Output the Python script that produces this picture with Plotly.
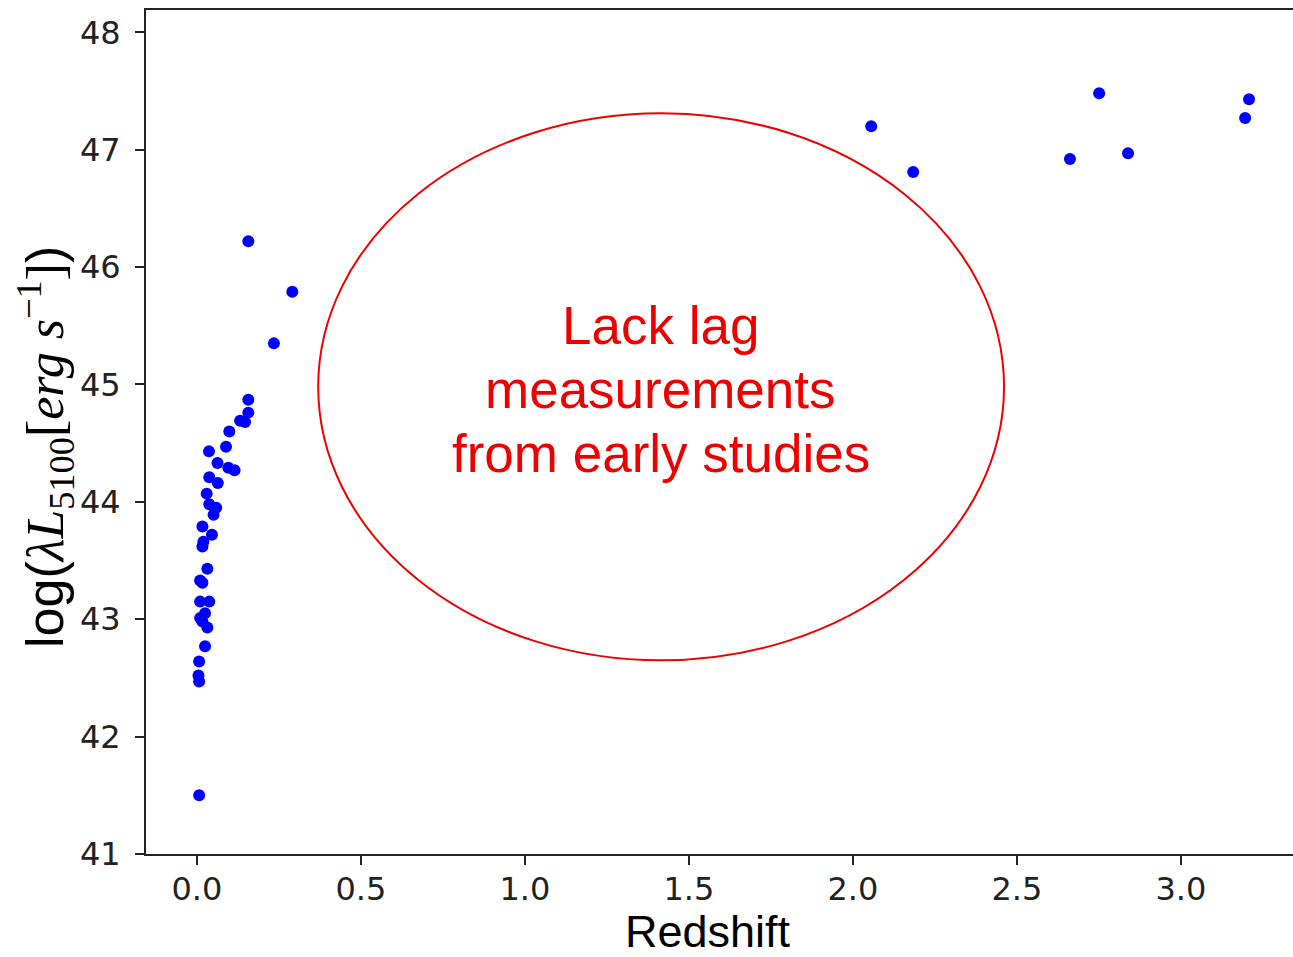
import plotly.graph_objects as go

# Data
redshift = [0.157, 0.157, 0.132, 0.147, 0.099, 0.089, 0.037, 0.063, 0.096, 0.115,
            0.038, 0.064, 0.030, 0.038, 0.059, 0.051, 0.017, 0.046, 0.020, 0.017,
            0.032, 0.010, 0.017, 0.010, 0.038, 0.025, 0.010, 0.017, 0.032, 0.025,
            0.007, 0.005, 0.007, 0.007, 0.157, 0.291, 0.235,
            2.056, 2.184, 2.662, 2.751, 2.839, 3.196, 3.208]
log_l5100 = [44.87, 44.76, 44.69, 44.68, 44.60, 44.47, 44.43, 44.33, 44.29, 44.27,
             44.21, 44.16, 44.07, 43.98, 43.95, 43.89, 43.79, 43.72, 43.66, 43.62,
             43.43, 43.33, 43.31, 43.15, 43.15, 43.05, 43.01, 42.98, 42.93, 42.77,
             42.64, 42.52, 42.47, 41.50, 46.22, 45.79, 45.35,
             47.20, 46.81, 46.92, 47.48, 46.97, 47.27, 47.43]

x_ticks = [0.0, 0.5, 1.0, 1.5, 2.0, 2.5, 3.0]
x_tick_labels = ["0.0", "0.5", "1.0", "1.5", "2.0", "2.5", "3.0"]
y_ticks = [41, 42, 43, 44, 45, 46, 47, 48]
y_tick_labels = ["41", "42", "43", "44", "45", "46", "47", "48"]

note_lines = ["Lack lag", "measurements", "from early studies"]

W, H = 1293, 957
ML, MR, MT, MB = 146, 0, 10, 103

fig = go.Figure()
fig.add_trace(go.Scatter(
    x=redshift, y=log_l5100, mode="markers",
    marker=dict(color="#0000ff", size=12, line=dict(width=0)),
    showlegend=False, hoverinfo="skip"))

# Ellipse annotation
fig.add_shape(type="circle", xref="x", yref="y",
              x0=0.370, x1=2.461, y0=42.65, y1=47.31,
              line=dict(color="#ee0000", width=2), fillcolor="rgba(0,0,0,0)")

line_y = [45.50, 44.955, 44.41]
for txt, yy in zip(note_lines, line_y):
    fig.add_annotation(x=1.415, y=yy, xref="x", yref="y", text=txt,
                       showarrow=False,
                       font=dict(family="Liberation Sans, Arial", size=53, color="#ee0000"),
                       xanchor="center", yanchor="middle")

# Axis titles as annotations
fig.add_annotation(x=(708 - ML) / (W - ML - MR), y=-(931 - 854) / (H - MT - MB),
                   xref="paper", yref="paper",
                   text="Redshift", showarrow=False,
                   font=dict(family="Liberation Sans, Arial", size=45, color="#000000"),
                   xanchor="center", yanchor="middle")
ytitle = ("log(<span style='font-family:Liberation Serif'><i>λL</i></span>"
          "<sub><span style='font-family:Liberation Serif'>5100</span></sub>"
          "<span style='font-family:Liberation Serif'>[<i>erg s</i></span>"
          "<sup><span style='font-family:Liberation Serif'>−1</span></sup>"
          "<span style='font-family:Liberation Serif'>]</span>)")
fig.add_annotation(x=(45 - ML) / (W - ML - MR), y=1 - (447 - MT) / (H - MT - MB),
                   xref="paper", yref="paper",
                   text=ytitle,
                   showarrow=False, textangle=-90,
                   font=dict(family="Liberation Sans, Arial", size=52, color="#000000"),
                   xanchor="center", yanchor="middle")

fig.update_layout(
    width=W, height=H,
    margin=dict(l=ML, r=MR, t=MT, b=MB, pad=0),
    paper_bgcolor="white", plot_bgcolor="white",
    xaxis=dict(range=[-0.155, 3.342], tickvals=x_ticks, ticktext=x_tick_labels,
               showgrid=False, zeroline=False, showline=True, mirror=True,
               linecolor="#222222", linewidth=2, ticks="outside", ticklen=9,
               tickwidth=1.5, tickcolor="#222222", ticklabelstandoff=-3,
               tickfont=dict(family="DejaVu Sans", size=32, color="#222222")),
    yaxis=dict(range=[41, 48.19], tickvals=y_ticks, ticktext=y_tick_labels,
               showgrid=False, zeroline=False, showline=True, mirror=False,
               linecolor="#222222", linewidth=2, ticks="outside", ticklen=9,
               tickwidth=1.5, tickcolor="#222222", ticklabelstandoff=8,
               tickfont=dict(family="DejaVu Sans", size=32, color="#222222")),
)

fig.write_html("out.html")
